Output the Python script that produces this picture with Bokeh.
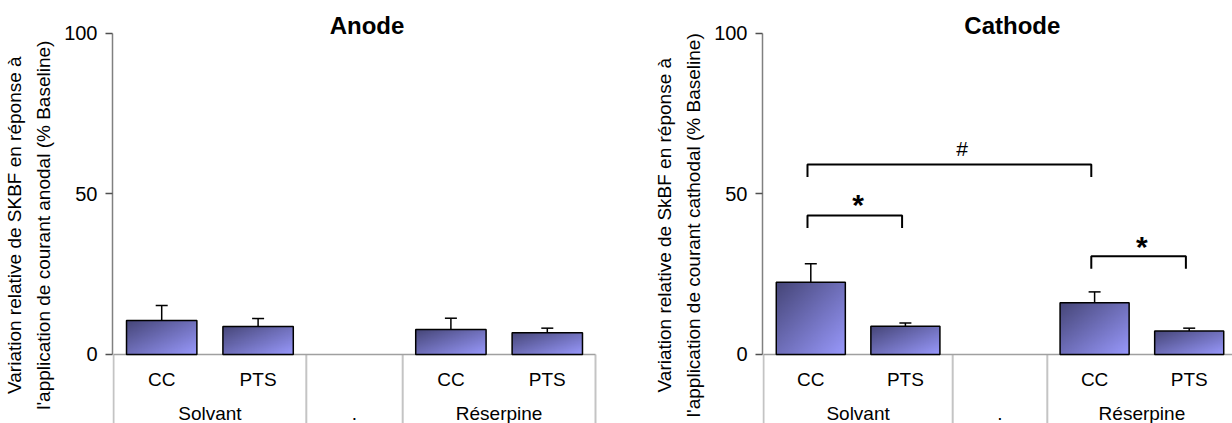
import numpy as np
from bokeh.plotting import figure
from bokeh.layouts import row
from bokeh.models import (Range1d, LinearAxis, FixedTicker, ColumnDataSource,
                          Whisker, TeeHead)
from bokeh.core.properties import value
from bokeh.embed import file_html
from bokeh.resources import INLINE

# ---------------- data ----------------
categories = ["CC", "PTS", "", "CC", "PTS"]
groups = ["Solvant", ".", "Réserpine"]
group_first = [0, 2, 3]
group_last = [1, 2, 4]
bar_idx = [0, 1, 3, 4]

anode_mean = [10.6, 8.7, 7.8, 6.8]
anode_err = [4.7, 2.5, 3.5, 1.4]
cathode_mean = [22.5, 8.8, 16.1, 7.3]
cathode_err = [5.8, 1.0, 3.4, 0.9]

y_ticks = [0, 50, 100]

br_left = [0, 0, 3]
br_right = [1, 3, 4]
br_height = [43.3, 59.2, 30.6]
br_label = ["*", "#", "*"]
br_label_x = [0.5, 1.6, 3.5]
br_label_y = [46.6, 64.1, 33.5]

titles = ["Anode", "Cathode"]
ylabels = ["Variation relative de SKBF en réponse à\nl'application de courant anodal (% Baseline)",
           "Variation relative de SkBF en réponse à\nl'application de courant cathodal (% Baseline)"]

# ---------------- style / layout ----------------
FONT = "Liberation Sans"
H = 423
Y0, Y1 = -21.5, 110.28
BW = 0.73
BR_DROP = 3.9
BR_SHIFT = -0.035
PAD = "\u00a0" * 5


def gradient(n=96):
    u = np.linspace(0, 1, n)[None, :]
    v = np.linspace(0, 1, n)[:, None]
    t = (u + (1 - v)) / 2.0
    c0 = np.array([70, 70, 120])
    c1 = np.array([153, 153, 252])
    img = np.empty((n, n), dtype=np.uint32)
    view = img.view(dtype=np.uint8).reshape((n, n, 4))
    for k in range(3):
        view[:, :, k] = (c0[k] + (c1[k] - c0[k]) * t).astype(np.uint8)
    view[:, :, 3] = 255
    return img


GRAD = gradient()


def make_panel(width, border, cat_px, means, errs, title, ylabel, brackets=False):
    frame_w = width - border
    x0 = -0.5 - 1.0 / cat_px
    x1 = x0 + frame_w / cat_px
    p = figure(frame_width=frame_w, frame_height=H,
               x_range=Range1d(x0, x1), y_range=Range1d(Y0, Y1),
               output_backend="svg", toolbar_location=None,
               x_axis_location=None, y_axis_location=None,
               min_border_left=border, min_border_right=0,
               min_border_top=0, min_border_bottom=0)
    p.grid.visible = False
    p.outline_line_color = None
    p.background_fill_color = "white"

    ax = LinearAxis(bounds=(0, 100), ticker=FixedTicker(ticks=y_ticks))
    ax.axis_line_color = "#808080"
    ax.axis_line_width = 1.5
    ax.major_tick_line_color = "#505050"
    ax.major_tick_line_width = 1.5
    ax.major_tick_out = 7
    ax.major_tick_in = 0
    ax.minor_tick_line_color = None
    ax.major_label_standoff = 8
    ax.major_label_text_font = FONT
    ax.major_label_text_font_size = "20px"
    ax.major_label_text_color = "black"
    p.add_layout(ax, "left")

    lab = LinearAxis(bounds=(Y0, 100), ticker=FixedTicker(ticks=[]))
    lab.axis_line_color = None
    lab.major_tick_line_color = None
    lab.minor_tick_line_color = None
    lab.major_tick_out = 0
    lab.major_tick_in = 0
    lab.major_label_standoff = 0
    lab.axis_label = "\n".join(line + PAD for line in ylabel.split("\n"))
    lab.axis_label_standoff = 8
    lab.axis_label_text_font = FONT
    lab.axis_label_text_font_size = "19px"
    lab.axis_label_text_font_style = "normal"
    lab.axis_label_text_color = "black"
    lab.axis_label_text_line_height = 1.34
    p.add_layout(lab, "left")

    n = len(categories)
    # separators below the axis
    edges = [group_first[0] - 0.5] + [g + 0.5 for g in group_last]
    p.segment(x0=edges, y0=[0] * len(edges), x1=edges, y1=[Y0] * len(edges),
              line_color="#c4c4c4", line_width=2)
    # x axis line
    p.segment(x0=[-0.5], y0=[0], x1=[n - 0.5], y1=[0], line_color="#a0a0a0", line_width=1.5)

    # bars
    src = ColumnDataSource(dict(
        x=bar_idx, top=means,
        left=[i - BW / 2 for i in bar_idx],
        zero=[0] * len(bar_idx),
        w=[BW] * len(bar_idx),
        img=[GRAD] * len(bar_idx),
        upper=[m + e for m, e in zip(means, errs)],
    ))
    p.image_rgba(image="img", x="left", y="zero", dw="w", dh="top", source=src)
    p.vbar(x="x", width=BW, top="top", bottom=0, source=src,
           fill_color=None, line_color="black", line_width=1.5)
    wh = Whisker(source=src, base="x", upper="upper", lower="top", dimension="height",
                 line_color="black", line_width=1.5,
                 upper_head=TeeHead(size=12, line_color="black", line_width=1.5),
                 lower_head=None)
    p.add_layout(wh)

    # category labels
    cat_x = [i for i, c in enumerate(categories) if c]
    cat_t = [c for c in categories if c]
    p.text(x=cat_x, y=[-7.85] * len(cat_x), text=cat_t, text_align="center",
           text_baseline="middle", text_font=value(FONT), text_font_size="19px",
           text_color="black")
    gx = [(a + b) / 2 for a, b in zip(group_first, group_last)]
    p.text(x=gx, y=[-18.3] * len(gx), text=groups, text_align="center",
           text_baseline="middle", text_font=value(FONT), text_font_size="19px",
           text_color="black")

    # title
    p.text(x=[2.13], y=[102.5], text=[title], text_align="center",
           text_baseline="middle", text_font=value(FONT), text_font_size="24px",
           text_font_style="bold", text_color="black")

    if brackets:
        xs, ys = [], []
        for a, b, h in zip(br_left, br_right, br_height):
            xs.append([a + BR_SHIFT, a + BR_SHIFT, b + BR_SHIFT, b + BR_SHIFT])
            ys.append([h - BR_DROP, h, h, h - BR_DROP])
        p.multi_line(xs=xs, ys=ys, line_color="black", line_width=2)
        for lx, ly, lt in zip(br_label_x, br_label_y, br_label):
            big = lt == "*"
            p.text(x=[lx], y=[ly], text=[lt], text_align="center",
                   text_baseline="middle", text_font=value(FONT),
                   text_font_size="30px" if big else "21px",
                   text_font_style="bold" if big else "normal", text_color="black")
    return p


p1 = make_panel(640, 112, 96.4, anode_mean, anode_err, titles[0], ylabels[0])
p2 = make_panel(592, 122, 94.6, cathode_mean, cathode_err, titles[1], ylabels[1], brackets=True)

layout = row(p1, p2)
open("out.html", "w").write(file_html(layout, INLINE))
